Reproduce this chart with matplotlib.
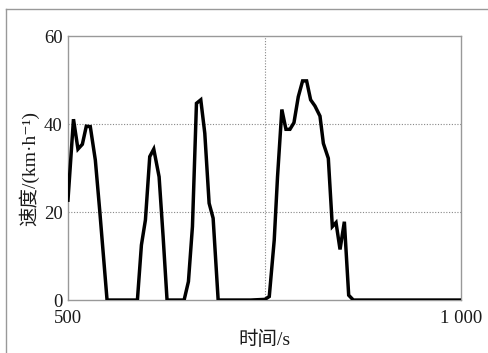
import matplotlib
matplotlib.use("Agg")
import matplotlib.pyplot as plt
from matplotlib.lines import Line2D

# time (s) and speed (km/h)
time_s = [500, 507, 512.7, 518.3, 523.3, 528.4, 534.8, 540.3, 549.7, 588.3,
          593.4, 598.5, 604, 609.1, 615.9, 621, 626, 647.7, 653.2, 658.3,
          663.4, 668.9, 674, 679.5, 684.6, 691, 732.2, 750.4, 756, 762.3,
          766.5, 772, 777.2, 782.3, 787.4, 792.9, 798.4, 803.5, 808.6, 814.1,
          820.5, 824.8, 831.1, 836.2, 840.9, 846, 851.5, 857, 862.9, 1000]
speed = [22.7, 41.1, 34.3, 35.4, 39.5, 39.4, 31.8, 20.5, 0, 0,
         12.5, 18.2, 32.6, 34.3, 28, 14.4, 0, 0, 4.2, 16.7,
         44.7, 45.5, 37.9, 22, 18.6, 0, 0, 0.15, 0.8, 13.6,
         28, 43.3, 38.8, 38.8, 40.3, 46.2, 49.8, 49.8, 45.5, 44.1,
         41.8, 35.6, 32.2, 16.7, 17.6, 11.5, 17.8, 1.1, 0, 0]

x_ticks = [500, 1000]
x_labels = ["500", "1 000"]
y_ticks = [0, 20, 40, 60]

FAM = ["Liberation Serif", "Noto Sans CJK SC", "DejaVu Serif"]
plt.rcParams["font.family"] = FAM

fig = plt.figure(figsize=(4.89, 3.53), dpi=100)
ax = fig.add_axes([0.139, 0.150, 0.804, 0.748])

ax.plot(time_s, speed, color="black", linewidth=2.5, solid_joinstyle="miter", zorder=3)

ax.set_xlim(500, 1000)
ax.set_ylim(0, 60)
ax.set_xticks(x_ticks)
ax.set_xticklabels(x_labels)
ax.set_yticks(y_ticks)
ax.tick_params(length=0, labelsize=13.5, colors="#1a1a1a")
ax.tick_params(axis="x", pad=7)
ax.tick_params(axis="y", pad=4)

for v in [20, 40]:
    ax.axhline(v, color="#888888", linestyle=(0, (1, 1.5)), linewidth=0.8, zorder=1)
ax.axvline(750, color="#888888", linestyle=(0, (1, 1.5)), linewidth=0.8, zorder=1)

for s in ax.spines.values():
    s.set_color("#999999")
    s.set_linewidth(1.0)

ax.set_xlabel("时间/s", fontsize=14, family=FAM, labelpad=3, color="#1a1a1a")
ax.set_ylabel("速度/(km·h⁻¹)", fontsize=14, family=FAM, labelpad=3, color="#1a1a1a")

# outer frame
fx = 6 / 489
fy = 1 - 9 / 353
fig.add_artist(Line2D([fx, fx], [0, fy], color="#999999", linewidth=1.0))
fig.add_artist(Line2D([fx, 1], [fy, fy], color="#999999", linewidth=1.0))

fig.savefig("out.png", dpi=100)
